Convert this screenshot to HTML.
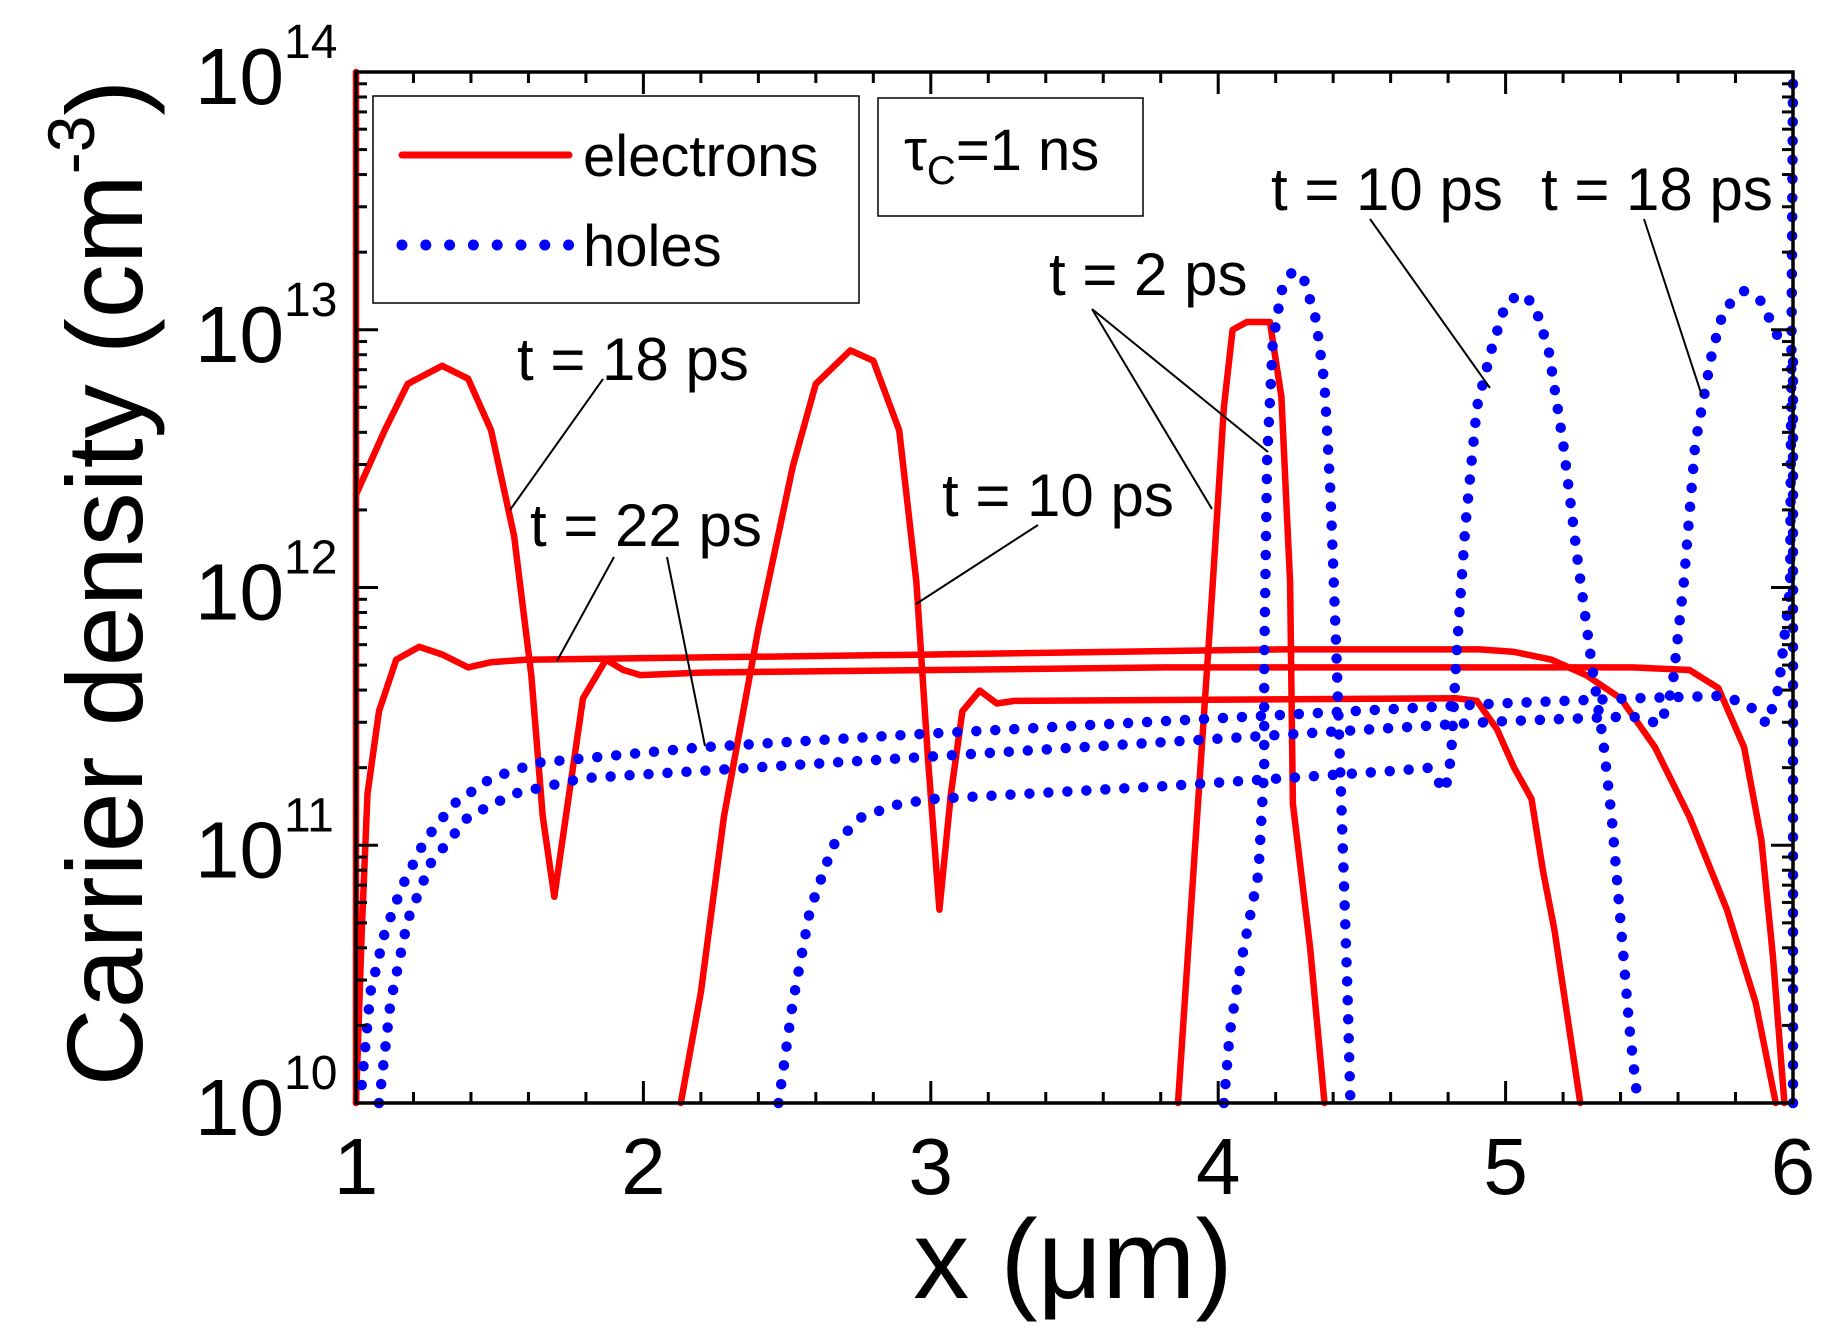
<!DOCTYPE html>
<html><head><meta charset="utf-8"><style>
html,body{margin:0;padding:0;background:#fff;}
svg{display:block;font-family:"Liberation Sans",Arial,sans-serif;}
</style></head><body>
<svg id="chart" width="1828" height="1340" viewBox="0 0 1828 1340" xmlns="http://www.w3.org/2000/svg">
<rect width="1828" height="1340" fill="#fff"/>
<g id="marks"></g>
<g id="axes"></g>
<g id="notes"></g>
</svg>
<script>
// ---- data (x in µm, y as log10 of density) ----
const xTicks = [1,2,3,4,5,6];
const yTicks = [10,11,12,13,14];
const e2x = [3.86,3.92,3.98,4.02,4.05,4.10,4.18,4.22,4.25,4.26,4.32,4.37];
const e2y = [10,11,12,12.7,13.0,13.03,13.03,12.74,12.02,11.16,10.6,10];
const e10x = [2.13,2.20,2.28,2.40,2.52,2.60,2.72,2.80,2.89,2.95,2.99,3.03,3.07,3.11,3.17,3.23,3.29,4.83,4.90,4.97,5.03,5.09,5.13,5.17,5.26];
const e10y = [10,10.43,11.11,11.84,12.47,12.79,12.92,12.88,12.61,12.02,11.34,10.75,11.2,11.52,11.6,11.55,11.56,11.57,11.56,11.45,11.3,11.18,10.9,10.67,10];
const e18x = [1.0,1.10,1.18,1.30,1.39,1.47,1.55,1.61,1.65,1.69,1.73,1.79,1.87,1.93,1.99,2.2,3.82,5.44,5.64,5.74,5.83,5.89,5.93,5.97];
const e18y = [12.36,12.61,12.79,12.86,12.81,12.61,12.2,11.66,11.11,10.8,11.11,11.57,11.72,11.68,11.66,11.67,11.69,11.69,11.68,11.61,11.38,11.02,10.57,10];
const e22x = [1.0,1.02,1.04,1.08,1.14,1.22,1.30,1.39,1.47,1.59,3.01,4.22,4.91,5.03,5.16,5.28,5.40,5.52,5.64,5.77,5.87,5.94];
const e22y = [10,10.66,11.2,11.52,11.72,11.77,11.74,11.69,11.71,11.72,11.74,11.76,11.76,11.75,11.72,11.66,11.57,11.38,11.11,10.75,10.39,10];
const eEdgeX = [1.0,1.0];
const eEdgeY = [10,14];
const h2x = [4.02,4.04,4.08,4.11,4.14,4.16,4.16,4.17,4.19,4.22,4.26,4.30,4.34,4.37,4.39,4.41,4.43,4.45,4.46];
const h2y = [10,10.27,10.55,10.72,10.89,11.3,11.7,12.5,12.95,13.15,13.23,13.19,13.04,12.79,12.38,11.79,11.11,10.43,10];
const h10x = [2.47,2.52,2.58,2.66,2.76,2.89,3.01,3.82,4.63,4.73,4.79,4.81,4.83,4.86,4.90,4.95,5.0,5.05,5.10,5.15,5.20,5.25,5.30,5.34,5.37,5.40,5.43,5.46];
const h10y = [10,10.39,10.75,11.0,11.11,11.16,11.18,11.23,11.29,11.30,11.21,11.34,11.75,12.24,12.7,12.92,13.1,13.14,13.1,12.92,12.56,12.11,11.7,11.4,11.1,10.7,10.3,10];
const h18x = [1.08,1.12,1.18,1.26,1.39,1.55,1.79,2.94,4.97,5.44,5.54,5.58,5.62,5.66,5.72,5.76,5.83,5.89,5.94,5.97];
const h18y = [10,10.39,10.71,10.93,11.11,11.2,11.26,11.34,11.48,11.5,11.47,11.61,12.02,12.56,12.92,13.08,13.15,13.11,12.99,12.92];
const h22x = [1.02,1.05,1.10,1.16,1.24,1.34,1.47,1.63,2.2,2.94,4.97,5.44,5.76,5.85,5.91,5.95,5.99,6.0];
const h22y = [10.07,10.43,10.66,10.84,11.02,11.16,11.26,11.32,11.38,11.43,11.55,11.57,11.58,11.54,11.47,11.61,12.0,14];
const hEdgeX = [6.0,6.0];
const hEdgeY = [10,12.9];

// ---- axes ----
const L=356,R=1793,T=72,B=1103;
const X = v => L + (v-1)/(6-1)*(R-L);
const Y = v => B - (v-10)/(14-10)*(B-T);
const NS='http://www.w3.org/2000/svg';
function mk(tag, attrs, parent){const e=document.createElementNS(NS,tag);for(const k in attrs)e.setAttribute(k,attrs[k]);parent.appendChild(e);return e;}
const marks=document.getElementById('marks'), axes=document.getElementById('axes'), notes=document.getElementById('notes');
function pathD(xs,ys){return xs.map((x,i)=>(i?'L':'M')+X(x).toFixed(1)+' '+Y(ys[i]).toFixed(1)).join(' ');}

const solid = [[e2x,e2y,'electrons-t2'],[e10x,e10y,'electrons-t10'],[e18x,e18y,'electrons-t18'],[e22x,e22y,'electrons-t22'],[eEdgeX,eEdgeY,'electrons-edge']];
solid.forEach(s=>{
  const p=mk('path',{d:pathD(s[0],s[1]),fill:'none',stroke:'#ff0000','stroke-width':6.5,'stroke-linejoin':'round','stroke-linecap':'round'},marks);
  
  
});
const dotted = [[h2x,h2y,'holes-t2'],[h10x,h10y,'holes-t10'],[h18x,h18y,'holes-t18'],[h22x,h22y,'holes-t22'],[hEdgeX,hEdgeY,'holes-edge']];
dotted.forEach(s=>{
  const p=mk('path',{d:pathD(s[0],s[1]),fill:'none',stroke:'#0000ff','stroke-width':10.5,'stroke-linecap':'round','stroke-dasharray':'0 19'},marks);
  
  
});

// frame
const fr=mk('rect',{x:L,y:T,width:R-L,height:B-T,fill:'none',stroke:'#000','stroke-width':3.5},axes);


for(let v=1; v<=6.001; v+=0.2){
  const major=Math.abs(v-Math.round(v))<1e-6, len=major?22:11, x=X(v);
  mk('line',{x1:x,y1:B,x2:x,y2:B-len,stroke:'#000','stroke-width':3},axes);
  mk('line',{x1:x,y1:T,x2:x,y2:T+len,stroke:'#000','stroke-width':3},axes);
}
xTicks.forEach(v=>{
  const t=mk('text',{x:X(v),y:1194,'font-size':80,'text-anchor':'middle'},axes);
  t.textContent=v;
  
  
});
for(let d=10; d<14; d++){
  for(let m=1;m<10;m++){
    const v=d+Math.log10(m), y=Y(v), len=m===1?22:11;
    mk('line',{x1:L,y1:y,x2:L+len,y2:y,stroke:'#000','stroke-width':3},axes);
    mk('line',{x1:R,y1:y,x2:R-len,y2:y,stroke:'#000','stroke-width':3},axes);
  }
}
yTicks.forEach(v=>{
  const t=mk('text',{x:284,y:Y(v)+32,'font-size':80,'text-anchor':'end'},axes);
  t.textContent='10';
  
  
  const s=mk('text',{x:284,y:Y(v)-14,'font-size':48},axes);
  s.textContent=v;
  
  
});
</script>
<script>
(function(){
const NS='http://www.w3.org/2000/svg';
const svg=document.getElementById('chart');
const html=`
<text x="1073" y="1298" font-size="112" text-anchor="middle">x (μm)</text>
<text transform="translate(142,583) rotate(-90)" font-size="108" text-anchor="middle">Carrier density (cm<tspan font-size="66" dy="-48">-3</tspan><tspan dy="48">)</tspan></text>
<g>
<rect x="373" y="96" width="486" height="207" fill="#fff" stroke="#000" stroke-width="1.5"/>
<line x1="402" y1="155" x2="569" y2="155" stroke="#ff0000" stroke-width="7" stroke-linecap="round"/>
<text x="583" y="176" font-size="58">electrons</text>
<line x1="402" y1="245" x2="569" y2="245" stroke="#0000ff" stroke-width="11" stroke-linecap="round" stroke-dasharray="0 23.8"/>
<text x="583" y="266" font-size="58">holes</text>
</g>
<g>
<rect x="878" y="98" width="265" height="118" fill="#fff" stroke="#000" stroke-width="1.5"/>
<text x="904" y="170" font-size="58">τ<tspan font-size="40" dy="14">C</tspan><tspan dy="-14">=1 ns</tspan></text>
</g>
<g font-size="60" stroke-width="2">
<text x="517" y="380">t = 18 ps</text>
<line x1="603" y1="379" x2="510" y2="510" stroke="#000"/>
<text x="530" y="546">t = 22 ps</text>
<line x1="614" y1="557" x2="557" y2="661" stroke="#000"/>
<line x1="667" y1="557" x2="705" y2="746" stroke="#000"/>
<text x="942" y="516">t = 10 ps</text>
<line x1="1038" y1="525" x2="916" y2="604" stroke="#000"/>
<text x="1049" y="295">t = 2 ps</text>
<line x1="1092" y1="309" x2="1268" y2="452" stroke="#000"/>
<line x1="1092" y1="309" x2="1212" y2="509" stroke="#000"/>
<text x="1271" y="210">t = 10 ps</text>
<line x1="1370" y1="219" x2="1490" y2="388" stroke="#000"/>
<text x="1541" y="210">t = 18 ps</text>
<line x1="1644" y1="219" x2="1702" y2="396" stroke="#000"/>
</g>`;
const g=document.createElementNS(NS,'g');


g.innerHTML=html;
svg.appendChild(g);
})();
</script>
</body></html>
